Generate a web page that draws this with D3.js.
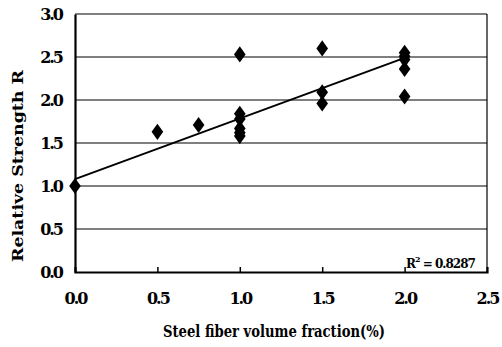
<!DOCTYPE html>
<html><head><meta charset="utf-8">
<script src="https://cdn.jsdelivr.net/npm/d3@7"></script>
<style>html,body{margin:0;padding:0;background:#fff;}</style>
</head><body>
<svg id="c" width="502" height="347"></svg>
<script>
const xValues = [0, 0.5, 0.75, 1, 1, 1, 1, 1, 1, 1.5, 1.5, 1.5, 2, 2, 2, 2, 2];
const yValues = [1.0, 1.63, 1.71, 2.53, 1.84, 1.78, 1.67, 1.62, 1.58, 2.60, 2.09, 1.96, 2.55, 2.51, 2.47, 2.36, 2.04];
const trendX = [0, 2.0];
const trendY = [1.08, 2.49];
const xTicks = [0, 0.5, 1.0, 1.5, 2.0, 2.5];
const yTicks = [0, 0.5, 1.0, 1.5, 2.0, 2.5, 3.0];
const xTitle = "Steel fiber volume fraction(%)";
const yTitle = "Relative Strength R";
const rLabel = "0.8287";

const svg = d3.select("#c");
const m = {l: 75, r: 487, t: 14, b: 272};
const x = d3.scaleLinear().domain([0, 2.5]).range([m.l, m.r]);
const y = d3.scaleLinear().domain([0, 3.0]).range([m.b, m.t]);
const font = "'DejaVu Serif', serif";

// gridlines
svg.append("g").selectAll("line").data(yTicks.filter(d => d > 0)).join("line")
  .attr("x1", m.l).attr("x2", m.r).attr("y1", d => y(d)).attr("y2", d => y(d))
  .attr("stroke", "#000").attr("stroke-width", 1.2);
// right border
svg.append("line").attr("x1", m.r).attr("x2", m.r).attr("y1", m.t).attr("y2", m.b)
  .attr("stroke", "#000").attr("stroke-width", 1.2);

// axes
const xAxis = d3.axisBottom(x).tickValues(xTicks).tickSize(-5).tickFormat(d3.format(".1f"));
const gx = svg.append("g").attr("transform", `translate(0,${m.b})`).call(xAxis);
gx.select(".domain").attr("stroke-width", 2.2);
gx.selectAll(".tick line").attr("stroke-width", 1.5).filter(d => d === 0 || d === 2.5).remove();
gx.selectAll(".tick text").attr("dy", 0).attr("y", 32)
  .style("font-family", font).style("font-weight", "bold").style("font-size", "16px").style("letter-spacing", "-2px");

const yAxis = d3.axisLeft(y).tickValues(yTicks).tickSize(0).tickPadding(13).tickFormat(d3.format(".1f"));
const gy = svg.append("g").attr("transform", `translate(${m.l},0)`).call(yAxis);
gy.select(".domain").attr("stroke-width", 2.2);
gy.selectAll(".tick text").attr("dy", "0.35em")
  .style("font-family", font).style("font-weight", "bold").style("font-size", "16px").style("letter-spacing", "-2px");

// trend line
svg.append("path")
  .attr("d", d3.line().x(d => x(d[0])).y(d => y(d[1]))(trendX.map((v, i) => [v, trendY[i]])))
  .attr("stroke", "#000").attr("stroke-width", 2).attr("fill", "none");

// diamonds
const sym = d3.symbol().type(d3.symbolDiamond).size(75);
svg.append("g").selectAll("path").data(xValues.map((v, i) => [v, yValues[i]])).join("path")
  .attr("d", sym).attr("transform", d => `translate(${x(d[0])},${y(d[1])}) scale(1.25,1)`)
  .attr("fill", "#000");

// titles
svg.append("text").attr("x", 163).attr("y", 337)
  .attr("textLength", 222).attr("lengthAdjust", "spacingAndGlyphs")
  .style("font-family", font).style("font-weight", "bold").style("font-size", "17px")
  .text(xTitle);
svg.append("text").attr("transform", "translate(23,262) rotate(-90)")
  .attr("textLength", 192).attr("lengthAdjust", "spacingAndGlyphs")
  .style("font-family", font).style("font-weight", "bold").style("font-size", "15px")
  .text(yTitle);

// R^2
const rt = svg.append("text").attr("x", 406).attr("y", 268)
  .style("font-family", font).style("font-weight", "bold").style("font-size", "12px").style("letter-spacing", "-1px");
rt.append("tspan").text("R");
rt.append("tspan").attr("dy", -6).style("font-size", "8px").text("2");
rt.append("tspan").attr("dy", 6).text(" = " + rLabel);
</script>
</body></html>
